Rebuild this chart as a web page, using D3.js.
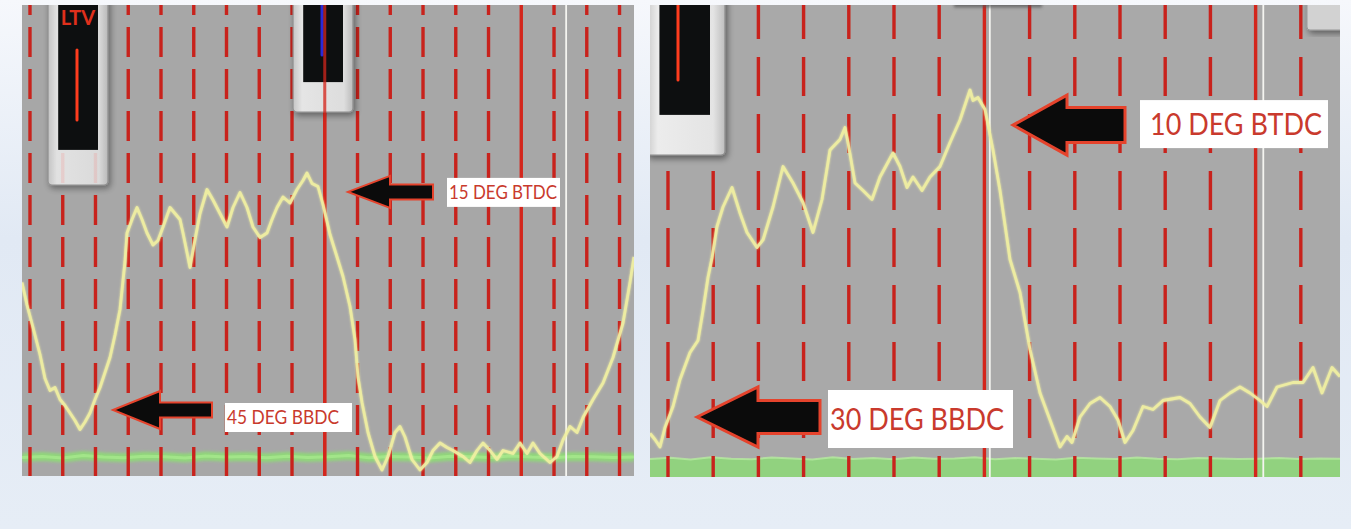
<!DOCTYPE html>
<html><head><meta charset="utf-8">
<script src="https://cdn.jsdelivr.net/npm/d3@7/dist/d3.min.js"></script>
<style>html,body{margin:0;padding:0;overflow:hidden;background:#e8eef6}</style>
</head><body>
<svg id="c" width="1351" height="529"></svg>
<script>
// ---------------- DATA ----------------
// trace samples: [sample index, signal level]
const leftTrace = [[0,64.5],[2.5,57],[5.5,49.5],[9,40.5],[11.5,32.5],[14,28.5],[16.5,29.5],[19,25.5],[21.5,23.5],[24,21],[26.5,18.5],[29,15.5],[31.5,18],[34,21],[36.5,25.5],[39,29.5],[41.5,34.5],[44,39.5],[46.5,47],[49,55.5],[51.5,71.5],[52.5,81],[55,85.5],[57.5,89.5],[60,85.5],[62.5,81],[65.5,77],[68,78.5],[70.5,83],[74,89.5],[76.5,87.5],[79,85.5],[80.5,81],[82.5,74.5],[84,69.5],[86,77],[89,87.5],[92.5,95.5],[95.5,92],[99,87.5],[102.5,83],[105.5,89.5],[109,94.5],[112.5,89.5],[115.5,83],[119,79.5],[122.5,81],[125,85.5],[127.5,89.5],[130.5,93],[134,91],[137.5,95.5],[140.5,98.5],[142.5,101],[145,97.5],[148,96.5],[150.5,90.5],[154,80.5],[157.5,73],[160.5,66.5],[164,56.5],[166.5,45.5],[168,33],[170,24.5],[173,14.5],[176.5,6.5],[180,2],[183,6.5],[186.5,14.5],[189,16.5],[191.5,13],[195,5.5],[199,2],[202.5,4.5],[205.5,8.5],[209,11],[212.5,9.5],[215.5,8.5],[220.5,6.5],[224,4.5],[227.5,8.5],[230.5,11],[234,8.5],[237.5,5.5],[240.5,8.5],[245.5,7.5],[249,11],[252.5,7.5],[255.5,11],[259,7.5],[264,4.5],[267.5,6.5],[270.5,12],[274,16.5],[277.5,14.5],[280.5,19.5],[285.5,25.5],[290.5,31],[295.5,39.5],[300.5,51],[304,64.5],[306,73]];
const rightTrace = [[0,14.5],[2.5,12.5],[5,10],[7.5,16.5],[11.5,23.5],[15,32.5],[20,41.5],[24,45.5],[26.5,55.5],[29,66.5],[31,73],[33.5,83.5],[36.5,90],[41,96.5],[45,88],[48.5,81.5],[53.5,76.5],[56.5,79],[61.5,90],[66.5,103.5],[71.5,98],[76.5,91.5],[81.5,81.5],[86,92.5],[90,109],[95,112.5],[97.5,116.5],[99,111.5],[102.5,98],[106.5,95.5],[111,92.5],[115,100],[121.5,108],[125,103.5],[128.5,96.5],[131.5,100],[136,95.5],[140,100],[145,103.5],[150,111.5],[155,119],[160,129],[161.5,125.5],[164,126.5],[167.5,122.5],[171.5,109],[175,95.5],[180,72.5],[185,61.5],[190,42.5],[195,28],[200,19],[205,10],[208.5,13.5],[211,11.5],[215,20],[220,24.5],[225,26.5],[230,23.5],[234,19],[237.5,11.5],[241.5,15.5],[246.5,23.5],[251.5,22.5],[256.5,25.5],[265,26.5],[270,24.5],[275,20],[280,16.5],[285,25.5],[290,28],[295,30],[300,28],[305,25.5],[308.5,23.5],[313.5,30],[321.5,31.5],[326.5,31.5],[331.5,36.5],[336,28],[341,36.5],[345,33.5]];
// green reference trace levels, one reading every 10 samples
const leftGreen = [6.2,6.5,6.0,6.8,6.3,6.1,6.6,6.4,6.0,6.7,6.3,6.5,6.1,6.6,6.2,6.4,6.8,6.1,6.5,6.3,6.0,6.6,6.4,6.2,6.7,6.3,6.1,6.5,6.4,6.2,6.3];
const rightGreen = [6.0,6.4,5.8,6.6,6.1,5.9,6.5,6.2,5.8,6.6,6.0,6.3,5.9,6.5,6.1,6.2,6.6,5.9,6.3,6.1,5.8,6.4,6.2,6.0,6.5,6.1,5.9,6.3,6.2,6.0,6.1,6.3,6.0,6.2,6.1];
// vertical division markers
const leftGridIdx = d3.range(0, 19);
const leftSolidIdx = [9, 15];
const leftWhiteAt = [16.37];
const rightGridIdx = d3.range(0, 15);
const rightSolidIdx = [7, 13];
const rightWhiteAt = [7.12, 13.17];
// annotations
const annoPanel = [0, 0, 1, 1];
const annoX = [163, 45.5, 181.5, 23.5];
const annoY = [94.7, 22, 117.3, 20];
const annoLabel = ["15 DEG BTDC", "45 DEG BBDC", "10 DEG BTDC", "30 DEG BBDC"];

// ---------------- LAYOUT / STYLE ----------------
const panels = [
  {x:[22,634], y:[476,5], xDom:[0,306], yDom:[0,157], gDom:[-0.244,18.442],
   grid:leftGridIdx, solid:leftSolidIdx, white:leftWhiteAt, trace:leftTrace, green:leftGreen,
   dash:"30 12", dashOff:20, bg:"#a7a7a7", greenMode:"line"},
  {x:[650,1340], y:[477,5], xDom:[0,345], yDom:[0,157.33], gDom:[-0.398,14.867],
   grid:rightGridIdx, solid:rightSolidIdx, white:rightWhiteAt, trace:rightTrace, green:rightGreen,
   dash:"39 18", dashOff:5, bg:"#a9a9a9", greenMode:"band"}
];
const annoStyle = [
  {head:42, half:16, len:85, shaft:7.5, gap:14, bw:113, bh:29, bdy:0.5, fs:19, tw:108, pad:2, sw:2},
  {head:47, half:19, len:99, shaft:7.5, gap:13, bw:127, bh:29, bdy:7.5, fs:19, tw:112, pad:2, sw:2},
  {head:54, half:30, len:112, shaft:17.5, gap:15, bw:188, bh:48, bdy:-1, fs:30, tw:172, pad:10, sw:3},
  {head:61, half:30, len:123, shaft:16.5, gap:8, bw:185, bh:58, bdy:2, fs:31, tw:174, pad:2, sw:3}
];

const svg = d3.select("#c");
const defs = svg.append("defs");
const bgGrad = defs.append("linearGradient").attr("id","bgg").attr("x1",0).attr("y1",0).attr("x2",0).attr("y2",1);
bgGrad.append("stop").attr("offset","0").attr("stop-color","#f6f8fc");
bgGrad.append("stop").attr("offset","0.45").attr("stop-color","#e1e9f4");
bgGrad.append("stop").attr("offset","1").attr("stop-color","#e6edf6");
function userFilter(id){
  return defs.append("filter").attr("id",id).attr("filterUnits","userSpaceOnUse")
    .attr("x",0).attr("y",0).attr("width",1351).attr("height",529);
}
const glow = userFilter("glow");
glow.append("feGaussianBlur").attr("stdDeviation",1.3).attr("result","b");
const gm = glow.append("feMerge"); gm.append("feMergeNode").attr("in","b"); gm.append("feMergeNode").attr("in","SourceGraphic");
userFilter("soft").append("feGaussianBlur").attr("stdDeviation",1.6);
userFilter("dsoft").append("feGaussianBlur").attr("stdDeviation",0.5);
const shadow = defs.append("filter").attr("id","shd").attr("x","-20%").attr("y","-20%").attr("width","140%").attr("height","140%");
shadow.append("feDropShadow").attr("dx",2).attr("dy",3).attr("stdDeviation",3).attr("flood-color","#000").attr("flood-opacity",0.45);
const frameGrad = defs.append("linearGradient").attr("id","fg").attr("x1",0).attr("y1",0).attr("x2",1).attr("y2",0);
frameGrad.append("stop").attr("offset","0").attr("stop-color","#c9c9c9");
frameGrad.append("stop").attr("offset","0.15").attr("stop-color","#ececec");
frameGrad.append("stop").attr("offset","0.85").attr("stop-color","#e4e4e4");
frameGrad.append("stop").attr("offset","1").attr("stop-color","#bdbdbd");

svg.append("rect").attr("width",1351).attr("height",529).attr("fill","url(#bgg)");

const scales = panels.map((p, i) => {
  const xs = d3.scaleLinear().domain(p.xDom).range(p.x);
  const ys = d3.scaleLinear().domain(p.yDom).range(p.y);
  const gx = d3.scaleLinear().domain(p.gDom).range(p.x);
  const clip = defs.append("clipPath").attr("id","clip"+i);
  clip.append("rect").attr("x",p.x[0]).attr("y",p.y[1]).attr("width",p.x[1]-p.x[0]).attr("height",p.y[0]-p.y[1]);
  const g = svg.append("g").attr("clip-path",`url(#clip${i})`);
  g.append("rect").attr("x",p.x[0]).attr("y",p.y[1]).attr("width",p.x[1]-p.x[0]).attr("height",p.y[0]-p.y[1]).attr("fill",p.bg);

  // green reference
  const gxs = d3.scaleLinear().domain([0, p.green.length-1]).range(p.xDom);
  if (p.greenMode === "line") {
    const gl = d3.line().x((d,j)=>xs(gxs(j))).y(d=>ys(d)).curve(d3.curveLinear);
    g.append("path").datum(p.green).attr("d",gl).attr("fill","none").attr("stroke","#8edc76").attr("stroke-width",9).attr("opacity",0.9).attr("filter","url(#soft)");
    g.append("path").datum(p.green).attr("d",gl).attr("fill","none").attr("stroke","#a6e88c").attr("stroke-width",3).attr("opacity",0.85);
  } else {
    const ga = d3.area().x((d,j)=>xs(gxs(j))).y0(ys(p.yDom[0])).y1(d=>ys(d));
    g.append("path").datum(p.green).attr("d",ga).attr("fill","#8fd47c").attr("opacity",0.95);
    const gl = d3.line().x((d,j)=>xs(gxs(j))).y(d=>ys(d));
    g.append("path").datum(p.green).attr("d",gl).attr("fill","none").attr("stroke","#b7eba0").attr("stroke-width",2).attr("opacity",0.8);
  }

  // dashed divisions
  const dashed = p.grid.filter(k => !p.solid.includes(k));
  g.selectAll("line.dash").data(dashed).join("line").attr("class","dash")
    .attr("x1",d=>gx(d)).attr("x2",d=>gx(d)).attr("y1",p.y[1]).attr("y2",p.y[0])
    .attr("stroke","#c8221c").attr("stroke-width",3.4).attr("stroke-dasharray",p.dash).attr("stroke-dashoffset",p.dashOff).attr("filter","url(#dsoft)");
  g.selectAll("line.solid").data(p.solid).join("line").attr("class","solid")
    .attr("x1",d=>gx(d)).attr("x2",d=>gx(d)).attr("y1",p.y[1]).attr("y2",p.y[0])
    .attr("stroke","#d3261c").attr("stroke-width",3.4);
  g.selectAll("line.white").data(p.white).join("line").attr("class","white")
    .attr("x1",d=>gx(d)).attr("x2",d=>gx(d)).attr("y1",p.y[1]).attr("y2",p.y[0])
    .attr("stroke","#f4f4f0").attr("stroke-width",1.8);
  return {xs, ys, gx, g};
});

// instrument widgets (drawn in trace units)
function widget(s, fx0, fx1, fy0, iy0, ix1, ly0, bar, barColor, barY, frameOpacity) {
  const {xs, ys, g} = s;
  const top = ys.domain()[1] + 5;
  const wg = g.append("g");
  wg.append("rect").attr("x",xs(fx0)).attr("y",ys(top)).attr("width",xs(fx1)-xs(fx0)).attr("height",ys(fy0)-ys(top))
    .attr("rx",4).attr("fill","url(#fg)").attr("stroke","#8a8a8a").attr("stroke-width",1.2).attr("filter","url(#shd)").attr("opacity",frameOpacity);
  const inx0 = fx0 + (fx1-fx0)*0.17, inx1 = ix1;
  wg.append("rect").attr("x",xs(inx0)).attr("y",ys(ly0)).attr("width",xs(inx1)-xs(inx0)).attr("height",ys(iy0-2)-ys(ly0))
    .attr("fill","#6e6e6e");
  wg.append("rect").attr("x",xs(inx0)).attr("y",ys(top)).attr("width",xs(inx1)-xs(inx0)).attr("height",ys(iy0)-ys(top))
    .attr("fill","#0d0f10");
  wg.append("line").attr("x1",xs(bar)).attr("x2",xs(bar)).attr("y1",ys(barY[1])).attr("y2",ys(barY[0]))
    .attr("stroke",barColor).attr("stroke-width",3).attr("stroke-linecap","round");
  return wg;
}
const L = scales[0], R = scales[1];
const ltv = widget(L, 13, 43, 97, 108.7, 38, 104.5, 27.5, "#ff3d1e", [118.7,142], 0.85);
ltv.append("text").attr("x",L.xs(28)).attr("y",L.ys(150.3)).attr("text-anchor","middle")
  .attr("font-family","Lato, sans-serif").attr("font-weight","bold").attr("font-size",20).attr("fill","#e0301c").text("LTV");
widget(L, 135.5, 165.5, 121.3, 131.3, 160.5, 127, 150, "#2a2ad8", [140.3,160], 0.9);
widget(R, -2, 37.5, 107.3, 120.7, 30, 116.7, 14, "#ff3d1e", [132.3,160], 1);
R.g.append("rect").attr("x",R.xs(328.5)).attr("y",R.ys(160)).attr("width",R.xs(348)-R.xs(328.5)).attr("height",R.ys(149)-R.ys(160))
  .attr("rx",3).attr("fill","#d2d2d2").attr("stroke","#999").attr("filter","url(#shd)");
R.g.append("rect").attr("x",R.xs(152)).attr("y",R.ys(160)).attr("width",R.xs(196)-R.xs(152)).attr("height",R.ys(156.5)-R.ys(160))
  .attr("fill","#555").attr("opacity",0.7).attr("filter","url(#soft)");

// the solid division line passes through the second left widget
L.g.append("line").attr("x1",L.gx(9)).attr("x2",L.gx(9)).attr("y1",5).attr("y2",476).attr("stroke","#d3261c").attr("stroke-width",3).attr("opacity",0.75);

// traces
scales.forEach((s, i) => {
  const line = d3.line().x(d=>s.xs(d[0])).y(d=>s.ys(d[1])).curve(d3.curveLinear);
  s.g.append("path").datum(panels[i].trace).attr("d",line).attr("fill","none")
    .attr("stroke","#f1f0a2").attr("stroke-width",2.8).attr("stroke-linejoin","round").attr("filter","url(#glow)").attr("opacity",0.95);
});

// annotations
annoLabel.forEach((lab, i) => {
  const s = scales[annoPanel[i]], st = annoStyle[i];
  const tx = s.xs(annoX[i]), ty = s.ys(annoY[i]);
  const p = d3.path();
  p.moveTo(tx, ty);
  p.lineTo(tx+st.head, ty-st.half);
  p.lineTo(tx+st.head, ty-st.shaft);
  p.lineTo(tx+st.len, ty-st.shaft);
  p.lineTo(tx+st.len, ty+st.shaft);
  p.lineTo(tx+st.head, ty+st.shaft);
  p.lineTo(tx+st.head, ty+st.half);
  p.closePath();
  svg.append("path").attr("d",p.toString()).attr("fill","#0b0b0b").attr("stroke","#e5432c").attr("stroke-width",st.sw).attr("stroke-linejoin","miter");
  const bx = tx + st.len + st.gap, by = ty + st.bdy - st.bh/2;
  svg.append("rect").attr("x",bx).attr("y",by).attr("width",st.bw).attr("height",st.bh).attr("fill","#ffffff");
  svg.append("text").attr("x",bx+st.pad).attr("y",ty+st.bdy+st.fs*0.36)
    .attr("font-family","Lato, 'Open Sans', sans-serif").attr("font-size",st.fs).attr("fill","#c93a2d")
    .attr("textLength",st.tw).attr("lengthAdjust","spacingAndGlyphs").text(lab);
});
</script>
</body></html>
